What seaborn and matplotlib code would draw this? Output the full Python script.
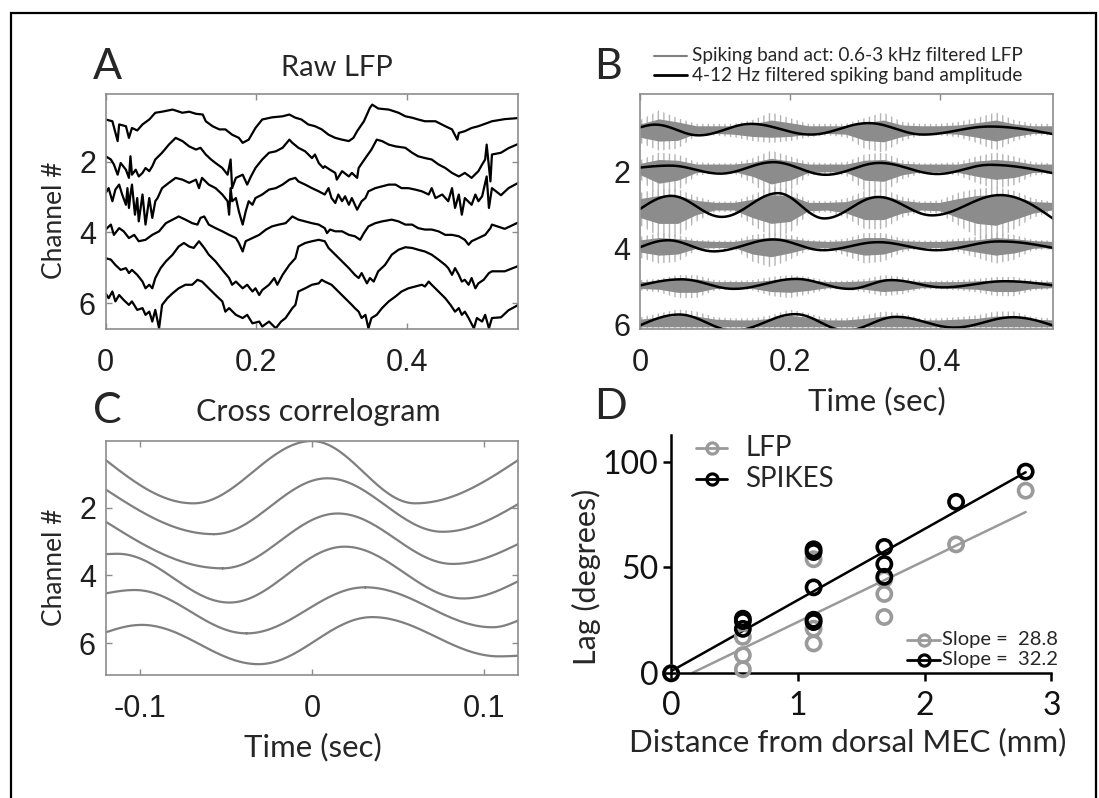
import numpy as np
import matplotlib
matplotlib.use("Agg")
import matplotlib.pyplot as plt
import seaborn as sns
from matplotlib.lines import Line2D
from matplotlib.patches import Rectangle

# ---------------- DATA ----------------
# Panel A: raw LFP traces, (time s, vertical position in channel units)
lfp_ch1 = [(0,.81),(.009,.86),(.016,1.42),(.018,.95),(.027,1.0),(.031,1.33),(.035,1.05),(.042,1.12),(.049,.95),(.058,.81),
           (.066,.62),(.075,.59),(.089,.53),(.102,.62),(.111,.59),(.120,.65),(.129,.67),(.133,.86),(.142,1.0),(.151,1.09),
           (.159,1.09),(.168,1.24),(.177,1.33),(.182,1.47),(.190,1.38),(.199,1.05),(.208,.81),(.221,.75),(.235,.72),(.244,.67),
           (.252,.76),(.260,.81),(.269,.95),(.278,1.0),(.287,1.09),(.296,1.24),(.305,1.33),(.314,1.38),(.323,1.42),(.329,1.33),
           (.334,1.14),(.343,.86),(.351,.48),(.354,.39),(.362,.50),(.376,.53),(.389,.62),(.398,.72),(.407,.76),(.415,.81),
           (.424,.86),(.438,.86),(.451,1.0),(.460,1.09),(.467,1.38),(.469,1.19),(.477,1.14),(.486,1.05),(.495,1.0),(.508,.90),
           (.513,.86),(.530,.80),(.548,.77)]
lfp_ch2 = [(0,1.85),(.007,1.94),(.011,2.08),(.016,2.37),(.020,2.04),(.027,2.23),(.031,2.46),(.033,1.85),(.035,2.37),(.040,2.23),
           (.044,2.42),(.049,2.32),(.053,2.18),(.058,2.27),(.062,2.13),(.066,1.94),(.075,1.75),(.084,1.52),(.093,1.33),(.102,1.42),
           (.111,1.57),(.120,1.66),(.126,1.61),(.133,1.80),(.140,1.94),(.146,2.04),(.155,2.18),(.162,2.37),(.166,1.94),(.168,2.75),
           (.173,2.46),(.182,2.37),(.188,2.65),(.193,2.42),(.199,2.18),(.208,1.94),(.217,1.75),(.226,1.71),(.235,1.61),(.244,1.38),
           (.248,1.47),(.256,1.61),(.265,1.71),(.274,1.90),(.278,1.80),(.283,2.04),(.289,2.18),(.291,2.13),(.298,2.23),(.305,2.32),
           (.307,2.51),(.314,2.27),(.323,2.42),(.327,2.32),(.334,2.46),(.336,2.18),(.345,1.90),(.353,1.66),(.360,1.38),(.367,1.42),
           (.376,1.52),(.385,1.57),(.398,1.61),(.407,1.75),(.415,1.85),(.424,1.90),(.433,1.94),(.442,2.08),(.451,2.18),(.460,2.32),
           (.469,2.42),(.477,2.32),(.486,2.46),(.495,2.27),(.500,2.08),(.504,1.94),(.506,1.52),(.511,2.56),(.513,1.80),(.525,1.75),
           (.535,1.62),(.548,1.50)]
lfp_ch3 = [(0,2.89),(.004,2.75),(.009,3.12),(.013,2.79),(.018,2.65),(.022,2.93),(.027,3.22),(.029,2.75),(.031,3.31),(.033,2.93),
           (.035,2.65),(.039,3.50),(.042,3.03),(.044,3.69),(.049,2.93),(.053,3.78),(.058,3.03),(.062,3.59),(.066,3.12),(.069,3.03),
           (.075,2.75),(.084,2.60),(.093,2.46),(.102,2.51),(.111,2.60),(.120,2.51),(.124,2.75),(.128,2.46),(.137,2.65),(.146,2.75),
           (.155,2.93),(.162,3.12),(.164,3.50),(.166,2.75),(.168,3.12),(.173,3.03),(.177,3.41),(.182,3.78),(.186,3.41),(.190,3.12),
           (.195,3.22),(.199,3.03),(.208,2.93),(.217,2.79),(.226,2.75),(.235,2.65),(.244,2.51),(.252,2.46),(.256,2.56),(.265,2.65),
           (.274,2.75),(.283,2.84),(.291,2.93),(.296,2.75),(.300,3.03),(.305,3.17),(.309,2.93),(.314,3.12),(.318,2.98),(.323,3.22),
           (.327,3.03),(.334,3.36),(.340,3.12),(.345,3.03),(.349,2.84),(.358,2.75),(.367,2.70),(.376,2.65),(.385,2.65),(.393,2.75),
           (.402,2.75),(.411,2.79),(.420,2.84),(.429,2.93),(.433,2.75),(.438,3.03),(.447,2.93),(.455,3.12),(.460,2.75),(.464,3.31),
           (.469,2.93),(.473,3.50),(.477,3.03),(.486,3.22),(.491,2.93),(.495,3.12),(.500,2.98),(.506,2.42),(.509,3.31),(.513,2.75),
           (.525,2.95),(.535,2.75),(.548,2.60)]
lfp_ch4 = [(0,3.92),(.007,3.78),(.011,4.07),(.018,3.88),(.024,3.97),(.031,4.16),(.038,4.07),(.044,4.25),(.053,4.21),(.062,4.07),
           (.071,3.97),(.080,3.74),(.089,3.64),(.097,3.55),(.106,3.64),(.115,3.74),(.122,3.78),(.126,3.59),(.131,3.55),(.137,3.78),
           (.146,3.88),(.155,3.97),(.164,4.07),(.173,4.16),(.177,4.30),(.182,4.54),(.186,4.25),(.195,4.16),(.204,4.07),(.213,3.92),
           (.221,3.83),(.230,3.78),(.239,3.74),(.248,3.55),(.256,3.64),(.265,3.69),(.274,3.74),(.283,3.78),(.291,3.88),(.294,4.02),
           (.298,3.92),(.305,3.97),(.314,3.97),(.323,4.07),(.331,4.11),(.338,4.21),(.343,4.02),(.349,3.83),(.358,3.74),(.367,3.69),
           (.380,3.64),(.389,3.69),(.398,3.78),(.407,3.78),(.415,3.88),(.424,3.92),(.433,3.92),(.442,3.97),(.451,4.07),(.460,4.07),
           (.469,4.11),(.477,4.21),(.482,4.35),(.486,4.25),(.495,4.16),(.504,4.07),(.511,3.88),(.513,3.78),(.530,3.90),(.548,3.72)]
lfp_ch5 = [(0,4.73),(.007,4.77),(.013,4.92),(.020,5.06),(.027,5.01),(.031,5.15),(.035,5.06),(.042,5.20),(.049,5.39),(.053,5.58),
           (.058,5.48),(.062,5.58),(.066,5.29),(.073,5.01),(.080,4.82),(.089,4.63),(.097,4.40),(.104,4.30),(.111,4.40),(.117,4.44),
           (.124,4.25),(.131,4.44),(.137,4.63),(.146,4.82),(.155,5.06),(.164,5.29),(.168,5.48),(.173,5.39),(.182,5.58),(.188,5.48),
           (.195,5.67),(.199,5.58),(.204,5.77),(.208,5.63),(.217,5.48),(.224,5.29),(.228,5.48),(.235,5.20),(.244,4.92),(.252,4.73),
           (.256,4.40),(.265,4.30),(.274,4.25),(.283,4.21),(.291,4.25),(.296,4.44),(.305,4.63),(.314,4.82),(.323,5.01),(.331,5.20),
           (.336,5.29),(.340,5.15),(.347,5.44),(.351,5.29),(.356,5.39),(.362,5.10),(.371,4.92),(.380,4.63),(.389,4.49),(.398,4.42),
           (.407,4.44),(.415,4.49),(.424,4.54),(.433,4.63),(.442,4.77),(.451,4.92),(.455,5.01),(.460,5.20),(.464,5.01),(.469,5.20),
           (.473,5.39),(.477,5.34),(.482,5.48),(.486,5.29),(.491,5.58),(.495,5.44),(.502,5.34),(.509,5.15),(.513,5.10),(.530,5.10),
           (.548,4.95)]
lfp_ch6 = [(0,5.72),(.004,5.86),(.009,5.67),(.013,5.95),(.018,5.77),(.024,5.91),(.031,6.05),(.035,5.95),(.042,6.19),(.049,6.14),
           (.053,6.33),(.058,6.24),(.062,6.52),(.066,6.19),(.071,6.71),(.075,6.05),(.082,5.86),(.089,5.72),(.097,5.58),(.106,5.48),
           (.115,5.48),(.122,5.34),(.128,5.39),(.137,5.58),(.146,5.77),(.155,5.95),(.159,6.24),(.164,6.14),(.173,6.33),(.182,6.42),
           (.188,6.33),(.195,6.57),(.204,6.52),(.208,6.66),(.217,6.52),(.226,6.71),(.233,6.52),(.239,6.42),(.248,6.14),(.252,6.05),
           (.256,5.67),(.265,5.58),(.274,5.48),(.283,5.44),(.287,5.34),(.291,5.39),(.300,5.48),(.309,5.67),(.318,5.86),(.327,6.05),
           (.331,6.14),(.336,6.24),(.340,6.42),(.345,6.33),(.349,6.71),(.353,6.42),(.360,6.33),(.367,6.14),(.376,5.95),(.385,5.81),
           (.393,5.67),(.402,5.58),(.411,5.53),(.420,5.48),(.424,5.53),(.429,5.39),(.433,5.48),(.442,5.67),(.451,5.86),(.458,6.05),
           (.464,6.24),(.469,6.14),(.473,6.33),(.477,6.24),(.482,6.42),(.489,6.71),(.493,6.42),(.500,6.52),(.504,6.33),(.509,6.71),
           (.513,6.42),(.525,6.40),(.535,6.20),(.548,6.05)]

# Panel B: 4-12 Hz filtered amplitude, extrema (time s, channel position)
amp_ch1 = [(0,.84),(.020,.77),(.078,1.05),(.148,.75),(.228,1.03),(.305,.73),(.378,1.03),(.467,.82),(.552,1.02)]
amp_ch2 = [(0,1.89),(.040,1.84),(.107,2.05),(.178,1.75),(.248,2.08),(.320,1.77),(.397,2.06),(.467,1.82),(.552,2.04)]
amp_ch3 = [(0,2.97),(.041,2.63),(.109,3.18),(.184,2.56),(.246,3.22),(.318,2.66),(.390,3.14),(.481,2.61),(.552,3.23)]
amp_ch4 = [(0,3.97),(.037,3.79),(.098,4.08),(.178,3.77),(.244,4.05),(.318,3.84),(.396,4.05),(.480,3.82),(.552,3.99)]
amp_ch5 = [(0,4.97),(.055,4.81),(.125,5.06),(.208,4.80),(.280,5.06),(.335,4.83),(.405,5.02),(.487,4.86),(.552,4.97)]
amp_ch6 = [(0,6.01),(.052,5.73),(.125,6.15),(.207,5.72),(.275,6.15),(.342,5.79),(.420,6.07),(.498,5.80),(.552,6.02)]

# Panel B: spiking band activity around a baseline; extents above / below baseline on a time grid
band_t = [0, .025, .05, .075, .1, .125, .15, .175, .2, .225, .25, .275, .3, .325, .35, .375, .4, .425, .45, .475, .5, .525, .55]
band_base = [0.90, 1.90, 2.90, 3.90, 4.95, 5.95]
# extent of the sparse, tallest spikes
spike_up = [
    [.25,.50,.30,.15,.15,.15,.25,.45,.30,.15,.15,.15,.30,.45,.20,.15,.15,.20,.30,.45,.25,.15,.15],
    [.20,.40,.35,.15,.12,.12,.25,.45,.30,.15,.12,.15,.35,.40,.20,.12,.12,.15,.30,.40,.30,.15,.12],
    [.35,.45,.45,.25,.12,.12,.30,.50,.45,.15,.12,.20,.40,.45,.25,.12,.15,.35,.45,.50,.40,.20,.12],
    [.20,.30,.25,.12,.10,.10,.25,.30,.25,.12,.10,.15,.30,.30,.15,.10,.10,.15,.20,.30,.25,.12,.10],
    [.12,.15,.25,.25,.12,.10,.12,.20,.25,.20,.10,.10,.15,.25,.20,.10,.10,.12,.15,.20,.20,.12,.10],
    [.15,.25,.35,.30,.15,.12,.12,.20,.35,.25,.12,.12,.20,.30,.25,.12,.12,.15,.20,.30,.30,.15,.12]]
spike_dn = [
    [.35,.55,.50,.15,.15,.20,.30,.35,.30,.20,.15,.20,.50,.60,.30,.15,.15,.20,.35,.55,.30,.15,.15],
    [.30,.75,.60,.20,.15,.15,.40,.80,.60,.20,.15,.20,.60,.65,.30,.15,.15,.20,.40,.55,.45,.20,.15],
    [.50,.80,.80,.40,.15,.15,.50,.80,.70,.20,.15,.30,.60,.60,.30,.15,.20,.50,.80,.90,.60,.30,.15],
    [.35,.50,.45,.15,.12,.12,.45,.60,.40,.15,.12,.30,.50,.45,.20,.12,.12,.20,.35,.50,.40,.15,.12],
    [.15,.20,.35,.35,.15,.12,.15,.30,.35,.25,.12,.12,.20,.30,.25,.12,.12,.15,.20,.30,.30,.15,.12],
    [.15]*23]
# extent of the dense activity band
dense_up = [
    [.15,.28,.20,.10,.10,.10,.15,.25,.18,.10,.10,.10,.18,.25,.12,.10,.10,.12,.18,.25,.15,.10,.10],
    [.12,.22,.20,.10,.10,.10,.15,.25,.18,.10,.10,.10,.20,.22,.12,.10,.10,.10,.18,.22,.18,.10,.10],
    [.20,.28,.28,.15,.10,.10,.18,.30,.28,.10,.10,.12,.25,.28,.15,.10,.10,.20,.28,.30,.25,.12,.10],
    [.12,.18,.15,.10,.08,.08,.15,.18,.15,.10,.08,.10,.18,.18,.10,.08,.08,.10,.12,.18,.15,.10,.08],
    [.08,.10,.15,.15,.08,.08,.08,.12,.15,.12,.08,.08,.10,.15,.12,.08,.08,.08,.10,.12,.12,.08,.08],
    [.10,.15,.20,.18,.10,.08,.08,.12,.20,.15,.08,.08,.12,.18,.15,.08,.08,.10,.12,.18,.18,.10,.08]]
dense_dn = [
    [.20,.30,.28,.10,.10,.12,.18,.20,.18,.12,.10,.12,.28,.32,.18,.10,.10,.12,.20,.30,.18,.10,.10],
    [.18,.40,.32,.12,.10,.10,.22,.42,.32,.12,.10,.12,.32,.35,.18,.10,.10,.12,.22,.30,.25,.12,.10],
    [.30,.45,.45,.22,.10,.10,.30,.45,.40,.12,.10,.18,.35,.35,.18,.10,.12,.30,.45,.50,.35,.18,.10],
    [.20,.28,.25,.10,.08,.08,.25,.32,.22,.10,.08,.18,.28,.25,.12,.08,.08,.12,.20,.28,.22,.10,.08],
    [.10,.12,.20,.20,.10,.08,.10,.18,.20,.15,.08,.08,.12,.18,.15,.08,.08,.10,.12,.18,.18,.10,.08],
    [.10]*23]

# Panel C: cross-correlogram extrema (lag s, channel position)
xc_ch1 = [(-.12,.59),(-.069,1.87),(0,.03),(.060,1.87),(.12,.59)]
xc_ch2 = [(-.12,1.46),(-.057,2.78),(.009,1.13),(.076,2.71),(.12,1.89)]
xc_ch3 = [(-.12,2.41),(-.052,3.79),(.015,2.17),(.082,3.66),(.12,3.07)]
xc_ch4 = [(-.12,3.37),(-.113,3.36),(-.048,4.80),(.019,3.15),(.088,4.68),(.12,4.17)]
xc_ch5 = [(-.12,4.53),(-.103,4.43),(-.038,5.71),(.031,4.35),(.105,5.53),(.12,5.33)]
xc_ch6 = [(-.12,5.68),(-.099,5.46),(-.031,6.62),(.035,5.23),(.109,6.39),(.12,6.37)]

# Panel D: lag vs distance
spk_x = [0, .566, .566, .566, 1.124, 1.124, 1.124, 1.124, 1.124, 1.682, 1.682, 1.682, 2.248, 2.797]
spk_y = [0, 25.8, 24.7, 21.0, 58.6, 57.3, 40.6, 25.3, 24.2, 59.7, 51.6, 45.6, 81.0, 95.3]
lfp_x = [0, .566, .566, .566, 1.124, 1.124, 1.124, 1.682, 1.682, 1.682, 2.248, 2.797]
lfp_y = [0, 17.2, 8.6, 1.9, 53.9, 21.1, 14.1, 44.5, 37.5, 26.6, 60.9, 86.3]
spk_fit_x = [0, 2.797]
spk_fit_y = [1.0, 95.0]
lfp_fit_x = [0.171, 2.797]
lfp_fit_y = [0.3, 76.2]
slope_labels = ["Slope =  28.8", "Slope =  32.2"]

# ---------------- STYLE ----------------
sns.set_theme(style="white")
plt.rcParams["font.family"] = ["Lato", "DejaVu Sans"]
plt.rcParams["hatch.linewidth"] = 1.0
TICKFONT = "Liberation Sans"
GRAY = "#7f7f7f"
LGRAY = "#9a9a9a"

W, H = 1099, 798
fig = plt.figure(figsize=(W / 100, H / 100), dpi=100)


def rect(l, t, r, b):
    return [l / W, 1 - b / H, (r - l) / W, (b - t) / H]


def fp(x, y):
    return x / W, 1 - y / H


def smooth(pts, n=40):
    ts, vs = [], []
    k = len(pts)
    for i in range(k - 1):
        (t0, v0), (t1, v1) = pts[i], pts[i + 1]
        s = np.linspace(0, 1, n)
        if i == 0:
            w = np.sin(np.pi / 2 * s)
        elif i == k - 2:
            w = 1 - np.cos(np.pi / 2 * s)
        else:
            w = (1 - np.cos(np.pi * s)) / 2
        ts.extend(t0 + (t1 - t0) * s)
        vs.extend(v0 + (v1 - v0) * w)
    return np.array(ts), np.array(vs)


def box_style(ax, xpad=14, ypad=7):
    for s in ax.spines.values():
        s.set_visible(True)
        s.set_color("#8c8c8c")
        s.set_linewidth(1.2)
    ax.tick_params(direction="in", length=4, width=1, color="#8c8c8c",
                   top=True, right=True, bottom=True, left=True,
                   labelsize=22, labelcolor="#1e1e1e")
    ax.tick_params(axis="x", pad=xpad)
    ax.tick_params(axis="y", pad=ypad)
    ax.grid(False)


def tickfont(ax):
    for lab in ax.get_xticklabels() + ax.get_yticklabels():
        lab.set_family(TICKFONT)


def line(ax, x, y, **kw):
    sns.lineplot(x=np.asarray(x), y=np.asarray(y), ax=ax, estimator=None, sort=False,
                 errorbar=None, legend=False, **kw)


# ---------------- PANEL A ----------------
axA = fig.add_axes(rect(105.6, 94, 518.3, 329))
for tr in [lfp_ch1, lfp_ch2, lfp_ch3, lfp_ch4, lfp_ch5, lfp_ch6]:
    t, v = zip(*tr)
    line(axA, t, v, color="black", lw=1.6)
axA.set_xlim(0, 0.548)
axA.set_ylim(6.73, 0.09)
axA.set_xticks([0, 0.2, 0.4], ["0", "0.2", "0.4"])
axA.set_yticks([2, 4, 6], ["2", "4", "6"])
axA.set_xlabel("")
axA.set_ylabel("")
box_style(axA)
tickfont(axA)

# ---------------- PANEL B ----------------
axB = fig.add_axes(rect(640.3, 94, 1053.3, 328.7))
for base, su, sd, du, dd in zip(band_base, spike_up, spike_dn, dense_up, dense_dn):
    axB.fill_between(band_t, base - np.array(su), base + np.array(sd), facecolor="none",
                     edgecolor="#b4b4b4", hatch="|||", lw=0)
    axB.fill_between(band_t, base - np.array(du), base + np.array(dd), color="#8c8c8c", lw=0)
for pts in [amp_ch1, amp_ch2, amp_ch3, amp_ch4, amp_ch5, amp_ch6]:
    t, v = smooth(pts)
    line(axB, t, v, color="black", lw=1.8)
axB.set_xlim(0, 0.552)
axB.set_ylim(6.1, -0.03)
axB.set_xticks([0, 0.2, 0.4], ["0", "0.2", "0.4"])
axB.set_yticks([2, 4, 6], ["2", "4", "6"])
axB.set_xlabel("")
axB.set_ylabel("")
box_style(axB)
tickfont(axB)

# ---------------- PANEL C ----------------
axC = fig.add_axes(rect(105.6, 440.7, 518.3, 675))
for pts in [xc_ch1, xc_ch2, xc_ch3, xc_ch4, xc_ch5, xc_ch6]:
    t, v = smooth(pts)
    line(axC, t, v, color=GRAY, lw=1.6)
axC.set_xlim(-0.12, 0.12)
axC.set_ylim(6.94, 0.02)
axC.set_xticks([-0.1, 0, 0.1], ["-0.1", "0", "0.1"])
axC.set_yticks([2, 4, 6], ["2", "4", "6"])
axC.set_xlabel("")
axC.set_ylabel("")
box_style(axC)
tickfont(axC)

# ---------------- PANEL D ----------------
axD = fig.add_axes(rect(671.1, 435, 1051.4, 673.3))
line(axD, lfp_fit_x, lfp_fit_y, color=LGRAY, lw=1.8)
line(axD, spk_fit_x, spk_fit_y, color="black", lw=1.8)
axD.scatter(lfp_x, lfp_y, s=105, facecolors="none", edgecolors=LGRAY, linewidths=2.6, clip_on=False, zorder=3)
axD.scatter(spk_x, spk_y, s=105, facecolors="none", edgecolors="black", linewidths=2.6, clip_on=False, zorder=4)
axD.set_xlim(0, 3)
axD.set_ylim(0, 112.6)
axD.set_xticks([0, 1, 2, 3], ["0", "1", "2", "3"])
axD.set_yticks([0, 50, 100], ["0", "50", "100"])
axD.set_xlabel("")
axD.set_ylabel("")
for side in ["top", "right"]:
    axD.spines[side].set_visible(False)
for side in ["left", "bottom"]:
    axD.spines[side].set_color("black")
    axD.spines[side].set_linewidth(1.8)
axD.tick_params(direction="out", length=6, width=1.8, color="black", labelsize=23,
                labelcolor="#111111", bottom=True, left=True)
axD.tick_params(axis="x", pad=7)
axD.tick_params(axis="y", pad=3)
axD.grid(False)

# ---------------- TEXTS ----------------
def ftext(x, y, s, size, **kw):
    fig.text(*fp(x, y), s, fontsize=size, ha=kw.pop("ha", "center"), va=kw.pop("va", "center"), **kw)


ftext(107, 67, "A", 31)
ftext(337, 68, "Raw LFP", 21)
ftext(55, 220, "Channel #", 19, rotation=90)
ftext(608, 67, "B", 31)
ftext(107, 411, "C", 31)
ftext(318, 412, "Cross correlogram", 22)
ftext(55, 567, "Channel #", 19, rotation=90)
ftext(313, 747, "Time (sec)", 22.5)
ftext(877, 401, "Time (sec)", 22.5)
ftext(611, 407, "D", 31)
ftext(586, 577, "Lag (degrees)", 22, rotation=90)
ftext(848, 742, "Distance from dorsal MEC (mm)", 22.5)

# B legend
for yy, col, lw, lab in [(56, "#808080", 1.5, "Spiking band act: 0.6-3 kHz filtered LFP"),
                         (75, "black", 2.0, "4-12 Hz filtered spiking band amplitude")]:
    fig.add_artist(Line2D([653.7 / W, 687 / W], [fp(0, yy)[1]] * 2, color=col, lw=lw))
    ftext(692, yy, lab, 13.7, ha="left")

# D legends
for yy, col, lab in [(448, LGRAY, "LFP"), (479, "black", "SPIKES")]:
    fig.add_artist(Line2D([696 / W, 727 / W], [fp(0, yy)[1]] * 2, color=col, lw=2))
    fig.add_artist(Line2D([711.5 / W], [fp(0, yy)[1]], marker="o", ms=8, mfc="none", mec=col, mew=2.3))
    ftext(745, yy, lab, 20, ha="left")
for yy, col, lab in [(640, LGRAY, slope_labels[0]), (660, "black", slope_labels[1])]:
    fig.add_artist(Line2D([907 / W, 940 / W], [fp(0, yy)[1]] * 2, color=col, lw=2))
    fig.add_artist(Line2D([923.5 / W], [fp(0, yy)[1]], marker="o", ms=8, mfc="none", mec=col, mew=2.3))
    ftext(942, yy, lab, 14.5, ha="left")

# outer frame
fig.add_artist(Rectangle((11 / W, -0.05), (1096 - 11) / W, 1 - 13 / H + 0.05,
                         transform=fig.transFigure, fill=False, ec="black", lw=1.6))

fig.savefig("out.png", dpi=100)
